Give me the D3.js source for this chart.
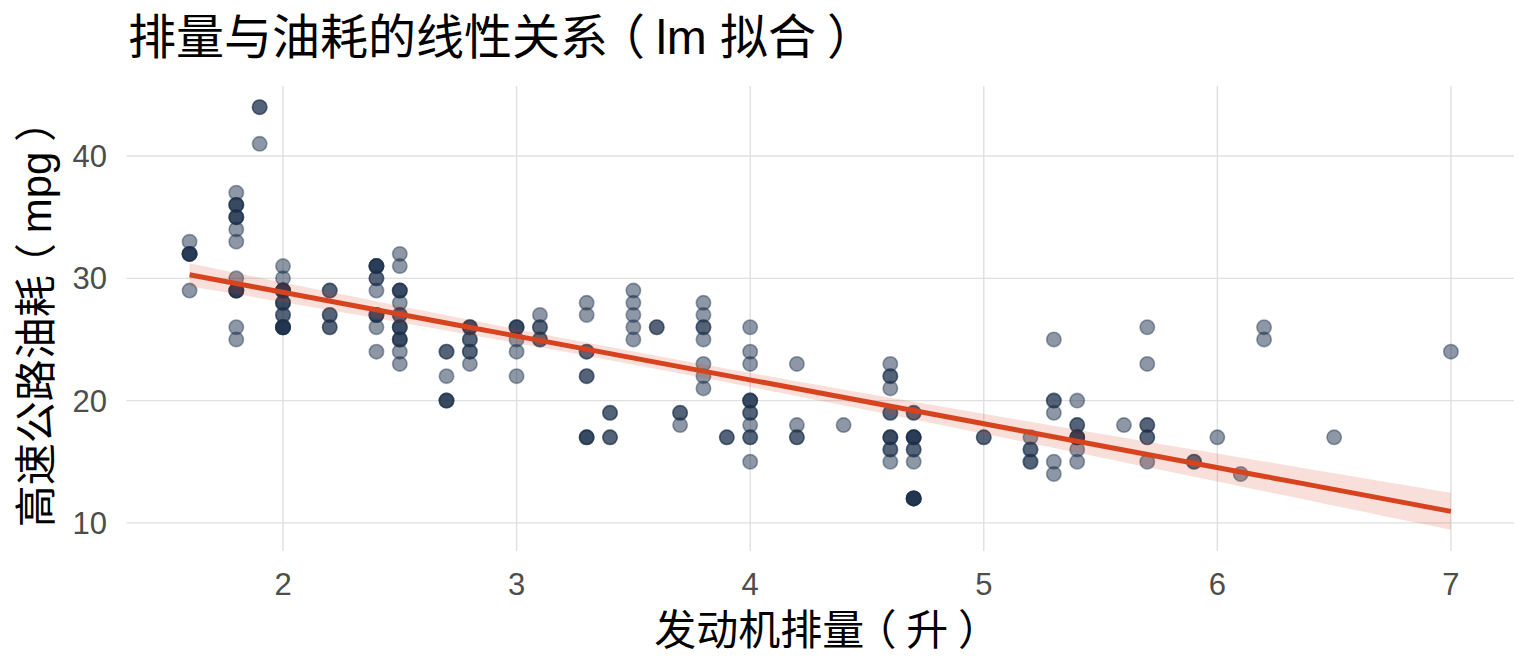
<!DOCTYPE html>
<html>
<head>
<meta charset="utf-8">
<script src="https://cdn.jsdelivr.net/npm/d3@7"></script>
<style>
	body { margin: 0; background: #fff; }
	text { font-family: "Liberation Sans", "Noto Sans CJK SC", sans-serif; }
</style>
</head>
<body>
<svg id="chart"></svg>
<script>
// engine displacement (one entry per column of points)
var displ = [1.6, 1.8, 1.9, 2.0, 2.2, 2.4, 2.5, 2.7, 2.8, 3.0, 3.1, 3.3, 3.4, 3.5, 3.6, 3.7, 3.8, 3.9,
	4.0, 4.2, 4.4, 4.6, 4.7, 5.0, 5.2, 5.3, 5.4, 5.6, 5.7, 5.9, 6.0, 6.1, 6.2, 6.5, 7.0];

// highway mpg values seen in each column
var hwy = [
	[33, 32, 29], [37, 36, 35, 34, 33, 30, 29, 26, 25], [44, 41], [31, 30, 29, 28, 27, 26],
	[29, 27, 26], [31, 30, 29, 27, 26, 24], [32, 31, 29, 28, 27, 26, 25, 24, 23], [24, 22, 20],
	[26, 25, 24, 23], [26, 25, 24, 22], [27, 26, 25], [28, 27, 24, 22, 17], [19, 17],
	[29, 28, 27, 26, 25], [26], [19, 18], [28, 27, 26, 25, 23, 22, 21], [17],
	[26, 24, 23, 20, 19, 18, 17, 15], [23, 18, 17], [18], [23, 22, 21, 19, 17, 16, 15],
	[19, 17, 16, 15, 12], [17], [17, 16, 15], [25, 20, 19, 15, 14], [20, 18, 17, 16, 15],
	[18], [26, 23, 18, 17, 15], [15], [17], [14], [26, 25], [17], [24]
];

// how many cars sit on each point (estimated from the darkness of the dot)
var counts = [
	[1, 4, 1], [1, 3, 3, 1, 1, 1, 4, 1, 1], [2, 1], [1, 1, 5, 3, 2, 5],
	[2, 2, 2], [4, 2, 1, 3, 1, 1], [1, 1, 3, 1, 2, 3, 3, 1, 1], [2, 1, 3],
	[3, 2, 2, 1], [3, 1, 1, 1], [1, 2, 2], [1, 1, 2, 2, 3], [2, 2],
	[1, 1, 1, 1, 1], [2], [2, 1], [1, 1, 2, 1, 1, 1, 1], [2],
	[1, 1, 1, 3, 2, 1, 2, 1], [1, 1, 2], [1], [1, 2, 1, 2, 3, 2, 1],
	[2, 4, 2, 1, 5], [2], [1, 2, 2], [1, 2, 1, 1, 1], [1, 2, 4, 1, 1],
	[1], [1, 1, 2, 2, 1], [2], [1], [1], [1, 1], [1], [1]
];

var xTicks = [2, 3, 4, 5, 6, 7],
	yTicks = [10, 20, 30, 40];

var title = "排量与油耗的线性关系（lm 拟合）",
	xTitle = "发动机排量（升）",
	yTitle = "高速公路油耗（mpg）";

var width = 1536,
	height = 672,
	panel = {left: 126.5, right: 1514, top: 86, bottom: 551};

var pointColor = "#1b2f4b",
	lineColor = "#d7431f";

// flatten into one row per car
var cars = [];
for (var i = 0; i < displ.length; i++) {
	for (var j = 0; j < hwy[i].length; j++) {
		for (var k = 0; k < counts[i][j]; k++) {
			cars.push({x: displ[i], y: hwy[i][j]});
		}
	}
}

// ordinary least squares fit, like geom_smooth(method = "lm")
var n = cars.length,
	xbar = d3.mean(cars, function(d) { return d.x; }),
	ybar = d3.mean(cars, function(d) { return d.y; }),
	sxx = d3.sum(cars, function(d) { return (d.x - xbar) * (d.x - xbar); }),
	sxy = d3.sum(cars, function(d) { return (d.x - xbar) * (d.y - ybar); }),
	slope = sxy / sxx,
	intercept = ybar - slope * xbar,
	sse = d3.sum(cars, function(d) { var r = d.y - intercept - slope * d.x; return r * r; }),
	s = Math.sqrt(sse / (n - 2)),
	tq = 1.97;

var xMin = d3.min(displ), xMax = d3.max(displ);
var fit = d3.range(80).map(function(i) {
	var x = xMin + (xMax - xMin) * i / 79,
		yhat = intercept + slope * x,
		se = s * Math.sqrt(1 / n + (x - xbar) * (x - xbar) / sxx);
	return {x: x, y: yhat, lo: yhat - tq * se, hi: yhat + tq * se};
});

// scales with ggplot style 5% expansion
var xPad = (xMax - xMin) * 0.05;
var x = d3.scaleLinear()
	.domain([xMin - xPad, xMax + xPad])
	.range([panel.left, panel.right]);

var yLo = Math.min(d3.min(cars, function(d) { return d.y; }), d3.min(fit, function(d) { return d.lo; })),
	yHi = Math.max(d3.max(cars, function(d) { return d.y; }), d3.max(fit, function(d) { return d.hi; })),
	yPad = (yHi - yLo) * 0.05;
var y = d3.scaleLinear()
	.domain([yLo - yPad, yHi + yPad])
	.range([panel.bottom, panel.top]);

var svg = d3.select("#chart")
	.attr("width", width)
	.attr("height", height);

// grid lines
svg.append("g").selectAll("line")
	.data(xTicks).enter()
	.append("line")
	.attr("x1", function(d) { return x(d); })
	.attr("x2", function(d) { return x(d); })
	.attr("y1", panel.top)
	.attr("y2", panel.bottom)
	.attr("stroke", "#e0e0e0")
	.attr("stroke-width", 1.4);

svg.append("g").selectAll("line")
	.data(yTicks).enter()
	.append("line")
	.attr("x1", panel.left)
	.attr("x2", panel.right)
	.attr("y1", function(d) { return y(d); })
	.attr("y2", function(d) { return y(d); })
	.attr("stroke", "#e0e0e0")
	.attr("stroke-width", 1.4);

// points
svg.append("g").selectAll("circle")
	.data(cars).enter()
	.append("circle")
	.attr("cx", function(d) { return x(d.x); })
	.attr("cy", function(d) { return y(d.y); })
	.attr("r", 7.2)
	.attr("fill", pointColor)
	.attr("fill-opacity", 0.5)
	.attr("stroke", pointColor)
	.attr("stroke-opacity", 0.42)
	.attr("stroke-width", 1.6);

// confidence band and fitted line
svg.append("path")
	.datum(fit)
	.attr("fill", lineColor)
	.attr("fill-opacity", 0.17)
	.attr("d", d3.area()
		.x(function(d) { return x(d.x); })
		.y0(function(d) { return y(d.lo); })
		.y1(function(d) { return y(d.hi); }));

svg.append("path")
	.datum(fit)
	.attr("fill", "none")
	.attr("stroke", lineColor)
	.attr("stroke-width", 5)
	.attr("d", d3.line()
		.x(function(d) { return x(d.x); })
		.y(function(d) { return y(d.y); }));

// tick labels
svg.append("g").selectAll("text")
	.data(xTicks).enter()
	.append("text")
	.attr("x", function(d) { return x(d); })
	.attr("y", 595)
	.attr("text-anchor", "middle")
	.attr("font-size", 31)
	.attr("fill", "#4d4d4d")
	.text(function(d) { return d; });

svg.append("g").selectAll("text")
	.data(yTicks).enter()
	.append("text")
	.attr("x", 107)
	.attr("y", function(d) { return y(d); })
	.attr("dy", "0.36em")
	.attr("text-anchor", "end")
	.attr("font-size", 31)
	.attr("fill", "#4d4d4d")
	.text(function(d) { return d; });

// the CJK font puts full-width brackets against the text; the reference has
// them centred in their box, so nudge each bracket glyph and undo it after
var shift = 0.23;
function bracketText(g, str, size, anchorMiddle) {
	var t = g.append("text")
		.attr("font-size", size)
		.attr("fill", "#000");
	var full = t.text(str).node().getComputedTextLength();
	t.text(null);
	var parts = str.split(/([（）])/).filter(function(d) { return d.length; });
	var carry = 0;
	parts.forEach(function(p) {
		var dx = carry;
		carry = 0;
		if (p == "（") { dx -= shift; carry = shift; }
		if (p == "）") { dx += shift; carry = -shift; }
		t.append("tspan")
			.attr("dx", (dx * size).toFixed(2))
			.text(p);
	});
	if (anchorMiddle) t.attr("x", -full / 2);
	return t;
}

var titleG = svg.append("g").attr("transform", "translate(128,54)");
bracketText(titleG, title, 48, false);

var xTitleG = svg.append("g").attr("transform", "translate(" + ((panel.left + panel.right) / 2 + 2) + ",645)");
bracketText(xTitleG, xTitle, 42, true);

var yTitleG = svg.append("g").attr("transform", "translate(51," + ((panel.top + panel.bottom) / 2) + ") rotate(-90)");
bracketText(yTitleG, yTitle, 42, true);
</script>
</body>
</html>
